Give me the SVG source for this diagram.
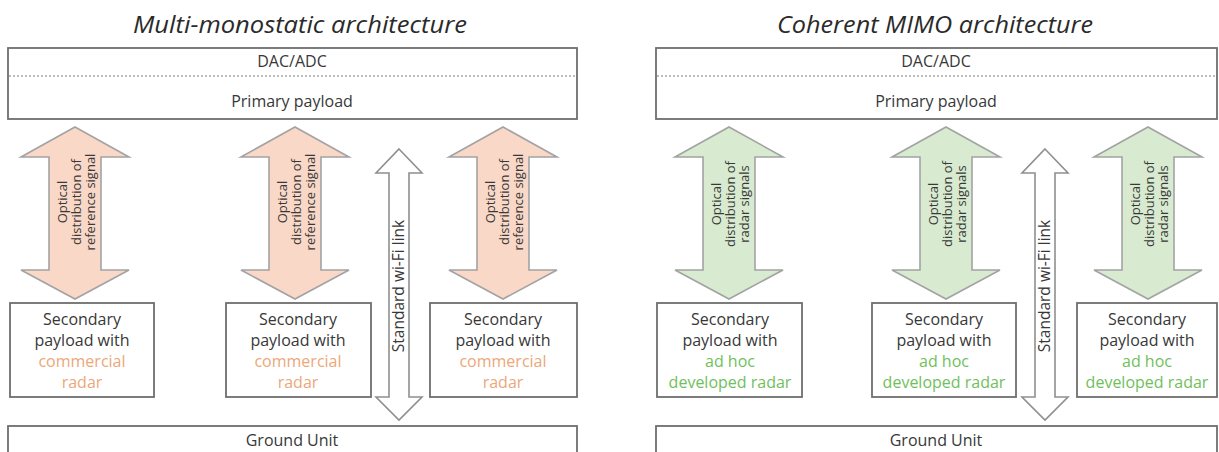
<svg xmlns="http://www.w3.org/2000/svg" xmlns:xlink="http://www.w3.org/1999/xlink" width="1219" height="452" viewBox="0 0 1219 452">
<style>
.bg{fill:#ffffff}
.box{fill:#ffffff;stroke:#6e6e6e;stroke-width:1.8}
.dash{stroke:#7a7a7a;stroke-width:1.2;stroke-dasharray:2 2;fill:none}
.t{font-family:"Open Sans","Liberation Sans",sans-serif;fill:#383838;text-anchor:middle}
.title{font-family:"Open Sans","Liberation Sans",sans-serif;font-style:italic;font-size:23px;fill:#2a2a2a;text-anchor:middle}
.hdr{font-size:16px}
.sec{font-size:16px}
.arr{font-size:13px}
.wifi{font-size:15.5px}
.org{fill:#eca77a}
.grn{fill:#6fbf5c}
.aO{fill:#f9d8c8;stroke:#a3a3a3;stroke-width:1.6}
.aG{fill:#d8ebd0;stroke:#a3a3a3;stroke-width:1.6}
.aW{fill:#ffffff;stroke:#8f8f8f;stroke-width:1.6}
</style>
<defs>
<path id="dbl" d="M0,127 L54,157 L26,157 L26,270 L54,270 L0,299 L-54,270 L-26,270 L-26,157 L-54,157 Z"/>
<path id="wf" d="M0,149 L23,173 L10,173 L10,397 L23,397 L0,420 L-23,397 L-10,397 L-10,173 L-23,173 Z"/>
</defs>
<rect class="bg" x="0" y="0" width="1219" height="452"/>

<text class="title" x="300" y="33" textLength="334" lengthAdjust="spacingAndGlyphs">Multi-monostatic architecture</text>
<text class="title" x="935" y="33" textLength="316" lengthAdjust="spacingAndGlyphs">Coherent MIMO architecture</text>

<!-- Left architecture -->
<g id="left-primary">
<rect class="box" x="8" y="48" width="569" height="71"/>
<line class="dash" x1="9" y1="76" x2="576" y2="76"/>
<text class="t hdr" x="292" y="67">DAC/ADC</text>
<text class="t hdr" x="292" y="107">Primary payload</text>
</g>
<g id="left-sec1">
<rect class="box" x="10" y="303" width="144" height="94"/>
<text class="t sec" x="82" y="325">Secondary</text>
<text class="t sec" x="82" y="346">payload with</text>
<text class="t sec org" x="82" y="367">commercial</text>
<text class="t sec org" x="82" y="388">radar</text>
</g>
<g id="left-sec2">
<rect class="box" x="226" y="303" width="145" height="94"/>
<text class="t sec" x="298" y="325">Secondary</text>
<text class="t sec" x="298" y="346">payload with</text>
<text class="t sec org" x="298" y="367">commercial</text>
<text class="t sec org" x="298" y="388">radar</text>
</g>
<g id="left-sec3">
<rect class="box" x="430" y="303" width="147" height="94"/>
<text class="t sec" x="503" y="325">Secondary</text>
<text class="t sec" x="503" y="346">payload with</text>
<text class="t sec org" x="503" y="367">commercial</text>
<text class="t sec org" x="503" y="388">radar</text>
</g>
<g id="left-ground">
<rect class="box" x="8" y="426" width="569" height="40"/>
<text class="t sec" x="292" y="446">Ground Unit</text>
</g>

<!-- Right architecture -->
<g id="right-primary">
<rect class="box" x="656" y="48" width="561" height="71"/>
<line class="dash" x1="657" y1="76" x2="1216" y2="76"/>
<text class="t hdr" x="936" y="67">DAC/ADC</text>
<text class="t hdr" x="936" y="107">Primary payload</text>
</g>
<g id="right-sec1">
<rect class="box" x="657" y="303" width="145" height="94"/>
<text class="t sec" x="730" y="325">Secondary</text>
<text class="t sec" x="730" y="346">payload with</text>
<text class="t sec grn" x="730" y="367">ad hoc</text>
<text class="t sec grn" x="730" y="388">developed radar</text>
</g>
<g id="right-sec2">
<rect class="box" x="872" y="303" width="144" height="94"/>
<text class="t sec" x="944" y="325">Secondary</text>
<text class="t sec" x="944" y="346">payload with</text>
<text class="t sec grn" x="944" y="367">ad hoc</text>
<text class="t sec grn" x="944" y="388">developed radar</text>
</g>
<g id="right-sec3">
<rect class="box" x="1077" y="303" width="140" height="94"/>
<text class="t sec" x="1147" y="325">Secondary</text>
<text class="t sec" x="1147" y="346">payload with</text>
<text class="t sec grn" x="1147" y="367">ad hoc</text>
<text class="t sec grn" x="1147" y="388">developed radar</text>
</g>
<g id="right-ground">
<rect class="box" x="656" y="426" width="561" height="40"/>
<text class="t sec" x="936" y="446">Ground Unit</text>
</g>

<!-- Connectors -->
<g id="connectors">
<use xlink:href="#dbl" href="#dbl" class="aO" x="75" y="0"/>
<use xlink:href="#dbl" href="#dbl" class="aO" x="295" y="0"/>
<use xlink:href="#dbl" href="#dbl" class="aO" x="503" y="0"/>
<use xlink:href="#wf" href="#wf" class="aW" x="399" y="0"/>
<use xlink:href="#dbl" href="#dbl" class="aG" x="729" y="0"/>
<use xlink:href="#dbl" href="#dbl" class="aG" x="946" y="0"/>
<use xlink:href="#dbl" href="#dbl" class="aG" x="1148" y="0"/>
<use xlink:href="#wf" href="#wf" class="aW" x="1045" y="0"/>

<text class="t arr" transform="translate(75,202) rotate(-90)"><tspan x="0" y="-8">Optical</tspan><tspan x="0" y="6">distribution of</tspan><tspan x="0" y="20">reference signal</tspan></text>
<text class="t arr" transform="translate(295,202) rotate(-90)"><tspan x="0" y="-8">Optical</tspan><tspan x="0" y="6">distribution of</tspan><tspan x="0" y="20">reference signal</tspan></text>
<text class="t arr" transform="translate(503,202) rotate(-90)"><tspan x="0" y="-8">Optical</tspan><tspan x="0" y="6">distribution of</tspan><tspan x="0" y="20">reference signal</tspan></text>
<text class="t arr" transform="translate(729,204) rotate(-90)"><tspan x="0" y="-8">Optical</tspan><tspan x="0" y="6">distribution of</tspan><tspan x="0" y="20">radar signals</tspan></text>
<text class="t arr" transform="translate(946,204) rotate(-90)"><tspan x="0" y="-8">Optical</tspan><tspan x="0" y="6">distribution of</tspan><tspan x="0" y="20">radar signals</tspan></text>
<text class="t arr" transform="translate(1148,204) rotate(-90)"><tspan x="0" y="-8">Optical</tspan><tspan x="0" y="6">distribution of</tspan><tspan x="0" y="20">radar signals</tspan></text>
<text class="t wifi" transform="translate(399,286) rotate(-90)" x="0" y="5">Standard wi-Fi link</text>
<text class="t wifi" transform="translate(1045,286) rotate(-90)" x="0" y="5">Standard wi-Fi link</text>
</g>
</svg>
